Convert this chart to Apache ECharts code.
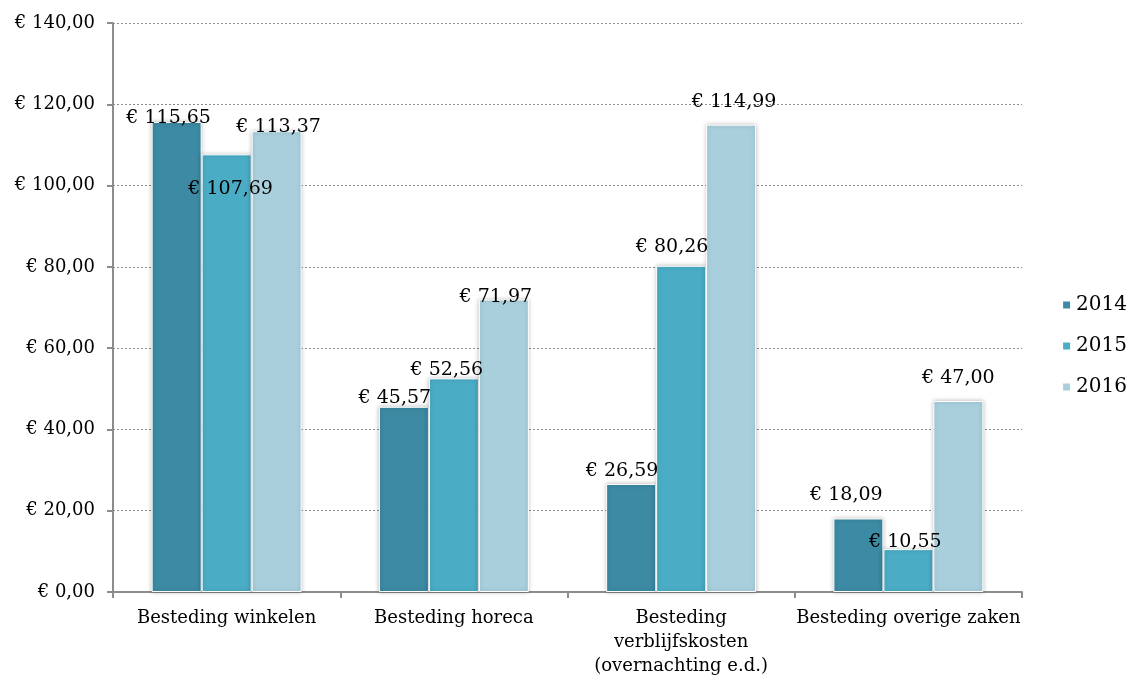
<!DOCTYPE html>
<html>
<head>
<meta charset="utf-8">
<script src="https://cdn.jsdelivr.net/npm/echarts@6/dist/echarts.min.js"></script>
<style>
  html, body { margin: 0; padding: 0; background: #fff; }
  #chart { width: 1135px; height: 675px; }
</style>
</head>
<body>
<div id="chart"></div>
<script>
// data
const categories = ['Besteding winkelen', 'Besteding horeca', 'Besteding\nverblijfskosten\n(overnachting e.d.)', 'Besteding overige zaken'];
const years = ['2014', '2015', '2016'];
const values2014 = [115.65, 45.57, 26.59, 18.09];
const values2015 = [107.69, 52.56, 80.26, 10.55];
const values2016 = [113.37, 71.97, 114.99, 47.00];

// label positions per bar (Excel put them a bit all over)
const offsets2014 = [[-8, 11], [-9, 6], [-9, 2], [-12, -9]];
const offsets2015 = [[4, 49], [-7, 6], [-9, -4], [-3, 7]];
const offsets2016 = [[2, 10], [-8, 12], [3, -8], [0, -8]];

const colors = ['#3C8AA3', '#4BACC6', '#A9CFDD'];
const font = 'DejaVu Serif';

function euro(v) {
    return '€ ' + v.toFixed(2).replace('.', ',');
}

function makeSeries(name, values, offsets, color) {
    return {
        name: name,
        type: 'bar',
        barGap: '0%',
        barCategoryGap: '34%',
        itemStyle: {
            color: color,
            borderColor: '#fff',
            borderWidth: 1,
            shadowBlur: 4,
            shadowColor: 'rgba(0,0,0,0.25)'
        },
        label: {
            show: true,
            position: 'top',
            distance: 5,
            fontFamily: font,
            fontSize: 19,
            color: '#000',
            formatter: p => euro(p.value)
        },
        data: values.map((v, i) => ({
            value: v,
            label: { offset: offsets[i] }
        }))
    };
}

function createChart(element, option) {
    let myChart = echarts.init(element);
    myChart.setOption(option);
    return myChart;
}

createChart(document.getElementById('chart'), {
    animation: false,
    backgroundColor: '#fff',
    grid: { left: 113, right: 113, top: 23, bottom: 83, outerBoundsMode: 'none' },
    legend: {
        orient: 'vertical',
        right: 3,
        top: 290,
        itemWidth: 9,
        itemHeight: 9,
        itemGap: 21,
        icon: 'rect',
        data: years,
        textStyle: { fontFamily: font, fontSize: 20, color: '#000' }
    },
    xAxis: {
        type: 'category',
        data: categories,
        axisLine: { lineStyle: { color: '#8c8c8c', width: 2 } },
        axisTick: { show: true, length: 6, lineStyle: { color: '#8c8c8c', width: 2 } },
        axisLabel: {
            fontFamily: font,
            fontSize: 18,
            color: '#000',
            margin: 14,
            lineHeight: 24,
            interval: 0
        }
    },
    yAxis: {
        type: 'value',
        min: 0,
        max: 140,
        interval: 20,
        axisLine: { show: true, lineStyle: { color: '#8c8c8c', width: 2 } },
        axisTick: { show: true, length: 6, lineStyle: { color: '#8c8c8c', width: 2 } },
        splitLine: { lineStyle: { color: '#8c8c8c', type: [2, 2], width: 1 } },
        axisLabel: {
            fontFamily: font,
            fontSize: 18,
            color: '#000',
            margin: 18,
            formatter: v => euro(v)
        }
    },
    series: [
        makeSeries(years[0], values2014, offsets2014, colors[0]),
        makeSeries(years[1], values2015, offsets2015, colors[1]),
        makeSeries(years[2], values2016, offsets2016, colors[2])
    ]
});
</script>
</body>
</html>
